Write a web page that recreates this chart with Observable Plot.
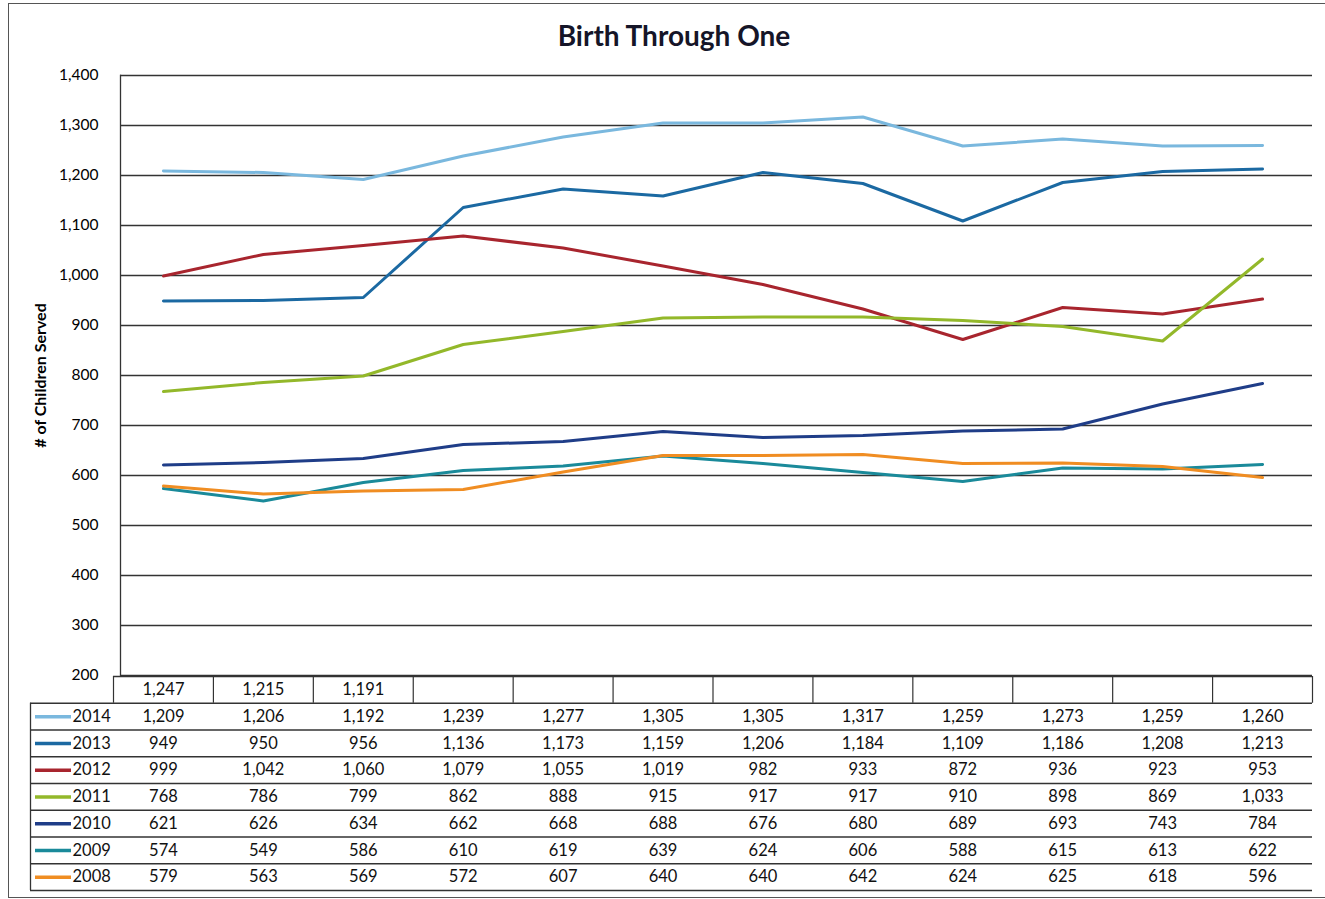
<!DOCTYPE html>
<html><head><meta charset="utf-8">
<script src="https://cdn.jsdelivr.net/npm/d3@7"></script>
<script src="https://cdn.jsdelivr.net/npm/@observablehq/plot@0.6"></script>
<style>
body{margin:0;background:#fff;width:1325px;height:899px;overflow:hidden;position:relative;font-family:Lato,sans-serif}
#box{position:absolute;left:8px;top:3px;width:1330px;height:893px;border:1.5px solid #555;border-right:none}
#title{position:absolute;left:0;width:1348px;top:18px;text-align:center;font:bold 28px Lato,sans-serif;color:#151528}
#chart{position:absolute;left:0;top:0}
#table{position:absolute;left:0;top:676px}
g[aria-label="y-axis label"] text{font-weight:bold;font-size:16px !important}
</style></head><body>
<div id="box"></div>
<div id="title">Birth Through One</div>
<div id="chart"></div>
<div id="table"></div>
<script>
// ---- data ----
const years = ["2014", "2013", "2012", "2011", "2010", "2009", "2008"];
const colors = ["#7ab8de", "#1b69a2", "#a8252e", "#93b82a", "#1f3d88", "#1a8a9a", "#f08d22"];
const v2015 = [1247, 1215, 1191];
const v2014 = [1209, 1206, 1192, 1239, 1277, 1305, 1305, 1317, 1259, 1273, 1259, 1260];
const v2013 = [949, 950, 956, 1136, 1173, 1159, 1206, 1184, 1109, 1186, 1208, 1213];
const v2012 = [999, 1042, 1060, 1079, 1055, 1019, 982, 933, 872, 936, 923, 953];
const v2011 = [768, 786, 799, 862, 888, 915, 917, 917, 910, 898, 869, 1033];
const v2010 = [621, 626, 634, 662, 668, 688, 676, 680, 689, 693, 743, 784];
const v2009 = [574, 549, 586, 610, 619, 639, 624, 606, 588, 615, 613, 622];
const v2008 = [579, 563, 569, 572, 607, 640, 640, 642, 624, 625, 618, 596];
const yTicks = [200, 300, 400, 500, 600, 700, 800, 900, 1000, 1100, 1200, 1300, 1400];
const yLabel = "# of Children Served";

const series = [v2014, v2013, v2012, v2011, v2010, v2009, v2008];
const lineData = years.flatMap((y, k) => series[k].map((v, i) => ({year: y, i, v})));

const xDomain = [-0.5, 11.5], xRange = [113, 1312];
const xs = d3.scaleLinear(xDomain, xRange);
const grid = "#333";
const fmt = d3.format(",");
const baseStyle = {fontFamily: "Lato, sans-serif", fontSize: "15px", color: "#000", background: "transparent", overflow: "visible"};

const chart = Plot.plot({
  width: 1325, height: 677, marginTop: 75, marginBottom: 2, marginLeft: 120, marginRight: 13,
  style: baseStyle,
  x: {domain: xDomain, range: xRange, axis: null},
  y: {domain: [200, 1400]},
  color: {domain: years, range: colors},
  marks: [
    Plot.ruleY(yTicks, {stroke: grid, strokeWidth: 1.3}),
    Plot.frame({anchor: "left", stroke: grid, strokeWidth: 1.3}),
    Plot.axisY({ticks: yTicks, tickSize: 0, tickPadding: 22, tickFormat: fmt, label: yLabel,
      labelAnchor: "center", labelArrow: "none", labelOffset: 86, fontSize: 15.5}),
    Plot.line(lineData, {x: "i", y: "v", stroke: "year", z: "year", strokeWidth: 3})
  ]
});
document.getElementById("chart").append(chart);

// ---- data table ----
const tableValues = [v2015, ...series];
const cellData = tableValues.flatMap((arr, k) => arr.map((v, i) => ({row: k, i, v})));
const legendData = years.map((y, k) => ({year: y, row: k + 1}));
const cols = d3.range(12);

const table = Plot.plot({
  width: 1325, height: 216, marginTop: 0, marginBottom: 2, marginLeft: 30, marginRight: 13,
  style: baseStyle,
  x: {domain: xDomain, range: xRange, axis: null},
  y: {domain: [0, 8], range: [0, 214], axis: null},
  color: {domain: years, range: colors},
  marks: [
    Plot.ruleY([0], {x1: xDomain[0], x2: xDomain[1], stroke: grid, strokeWidth: 1.3}),
    Plot.ruleX([...cols.map(i => i - 0.5), 11.5], {y1: 0, y2: 1, stroke: grid, strokeWidth: 1.2}),
    Plot.ruleY(d3.range(1, 9), {stroke: grid, strokeWidth: 1.3}),
    Plot.ruleX([xs.invert(30)], {y1: 1, y2: 8, stroke: grid, strokeWidth: 1.3}),
    Plot.text(cellData, {x: "i", y: d => d.row + 0.5, text: d => fmt(d.v), fontSize: 16.5, fill: "#111"}),
    Plot.ruleY(legendData, {y: d => d.row + 0.5, x1: xs.invert(35), x2: xs.invert(71), stroke: "year", strokeWidth: 3.5}),
    Plot.text(legendData, {x: xs.invert(72), y: d => d.row + 0.5, text: "year", textAnchor: "start", fontSize: 16.5, fill: "#111"})
  ]
});
document.getElementById("table").append(table);
</script>
</body></html>
